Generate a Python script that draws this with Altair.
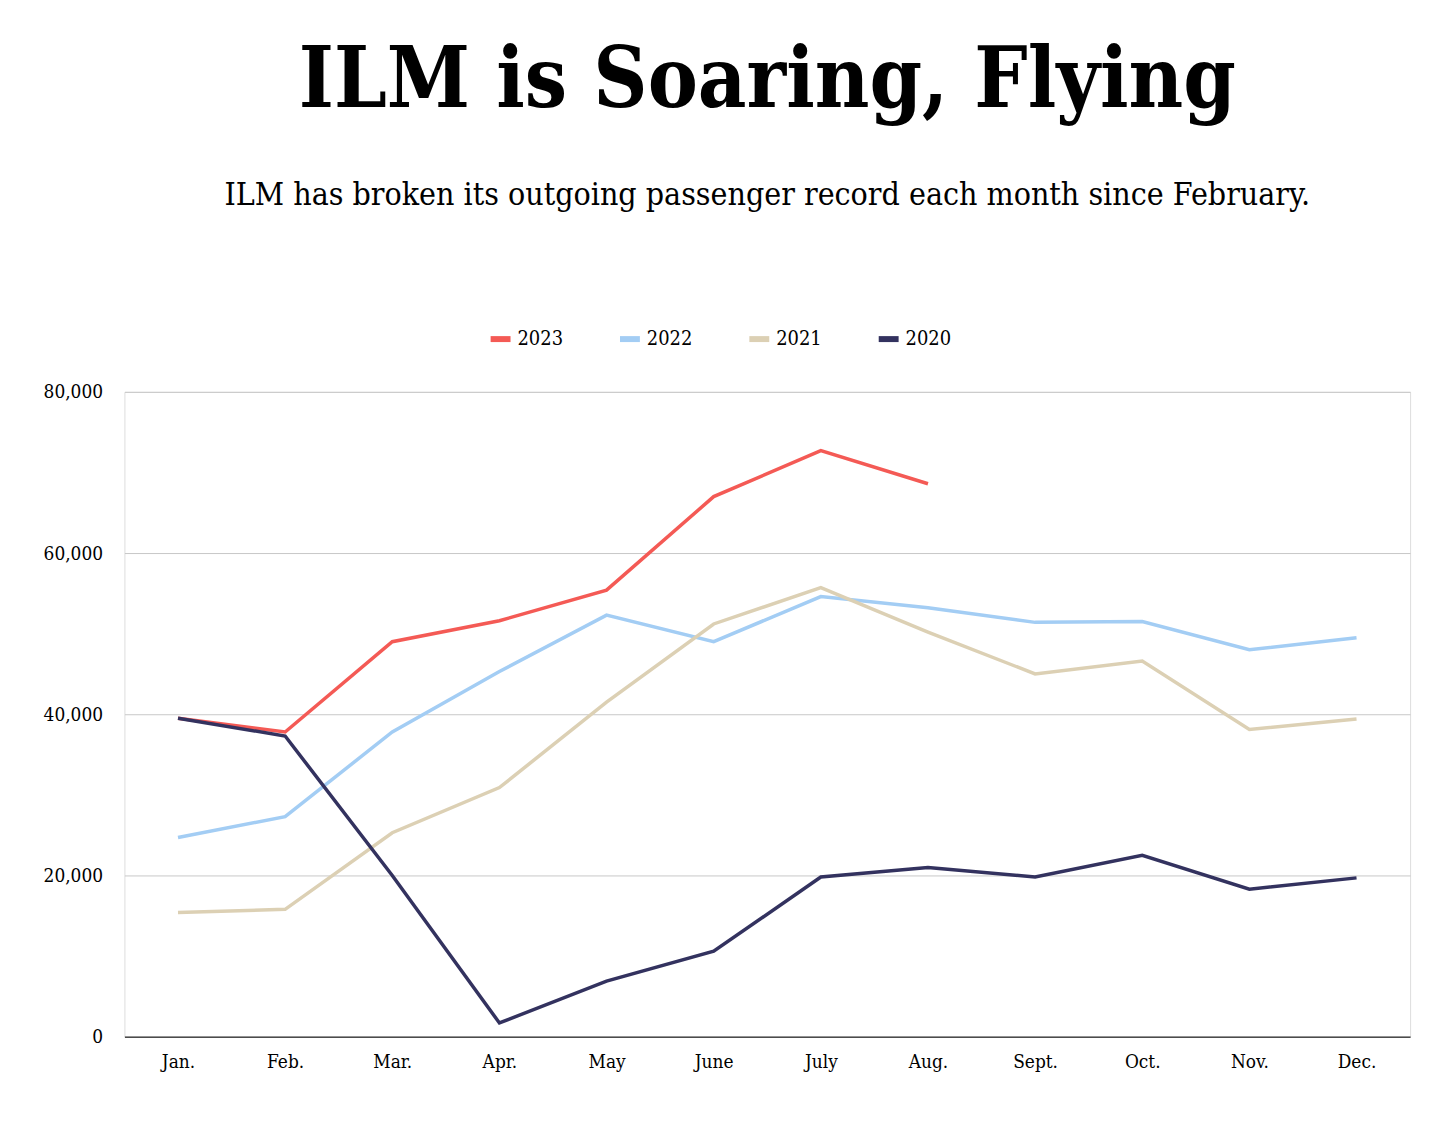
import altair as alt
import pandas as pd

months = ["Jan.", "Feb.", "Mar.", "Apr.", "May", "June", "July", "Aug.", "Sept.", "Oct.", "Nov.", "Dec."]
y2023 = [39500, 37800, 49000, 51600, 55400, 67000, 72700, 68600]
y2022 = [24700, 27300, 37800, 45300, 52300, 49000, 54600, 53200, 51400, 51500, 48000, 49500]
y2021 = [15400, 15800, 25300, 30900, 41500, 51200, 55700, 50200, 45000, 46600, 38100, 39400]
y2020 = [39500, 37300, 20000, 1700, 6900, 10600, 19800, 21000, 19800, 22500, 18300, 19700]
series = ["2023", "2022", "2021", "2020"]
colors = ["#f45a55", "#a3cdf4", "#dcd0b4", "#33325f"]

rows = []
for name, vals in zip(series, [y2023, y2022, y2021, y2020]):
    for i, v in enumerate(vals):
        rows.append({"month": months[i], "year": name, "value": v})
df = pd.DataFrame(rows)

font = "DejaVu Serif Condensed"
chart = alt.Chart(df).mark_line(strokeWidth=3.5).encode(
    x=alt.X("month:N", sort=months, title=None,
            scale=alt.Scale(type="point", padding=0.5),
            axis=alt.Axis(labelAngle=0, ticks=False, grid=False, domainColor="#000",
                          labelFont=font, labelFontSize=19, labelColor="#000", labelPadding=16)),
    y=alt.Y("value:Q", title=None, scale=alt.Scale(domain=[0, 80000]),
            axis=alt.Axis(values=[0, 20000, 40000, 60000, 80000], format=",.0f", domain=False, ticks=False,
                          gridColor="#c8c8c8", labelFont=font, labelFontSize=19, labelColor="#000",
                          labelPadding=22)),
    color=alt.Color("year:N", sort=series, scale=alt.Scale(domain=series, range=colors),
                    legend=alt.Legend(orient="none", legendX=365, legendY=-66, direction="horizontal",
                                      title=None,
                                      symbolType="stroke", symbolStrokeWidth=6, symbolSize=400,
                                      labelFont=font, labelFontSize=20, labelColor="#000",
                                      columnPadding=45)),
    detail="year:N",
).properties(
    width=1292, height=648,
    padding={"left": 35, "top": 30, "right": 20, "bottom": 40},
    title=alt.TitleParams(
        "ILM is Soaring, Flying",
        subtitle="ILM has broken its outgoing passenger record each month since February.",
        font=font, fontSize=84, fontWeight="bold", color="#000", anchor="middle",
        subtitleFont=font, subtitleFontSize=32, subtitleColor="#000", subtitlePadding=55,
        offset=115,
    ),
).configure_view(strokeWidth=0).configure(background="white")

chart.save("out.html", embed_options={"renderer": "svg", "actions": False})
